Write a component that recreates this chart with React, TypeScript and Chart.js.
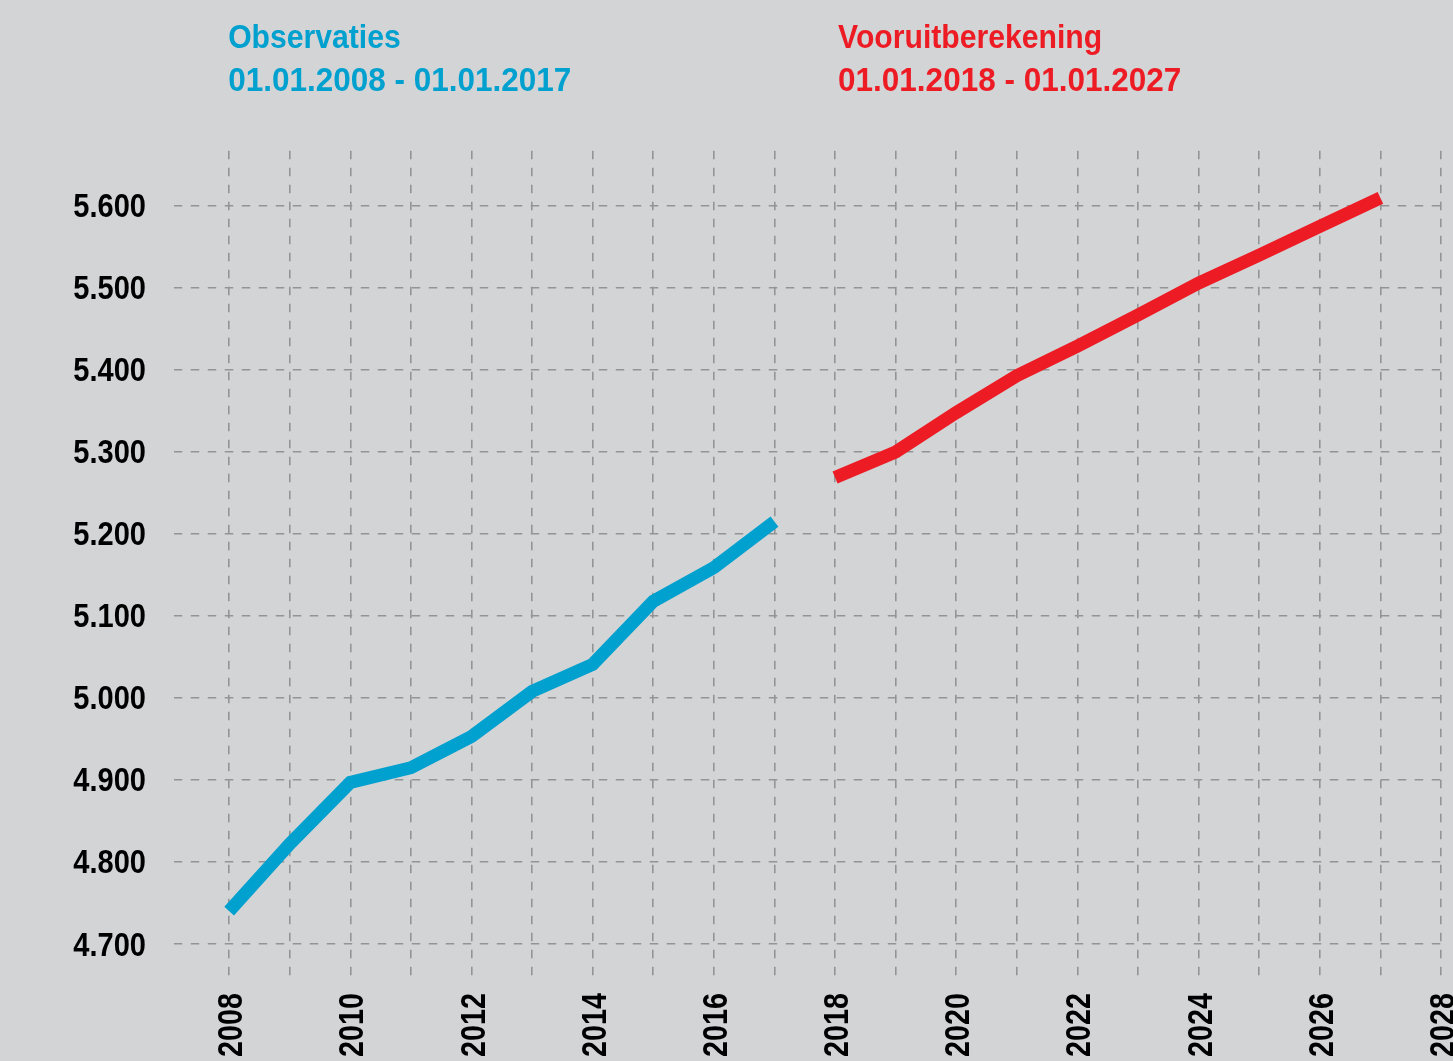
import { useEffect, useRef } from "react";
import { Chart, registerables } from "chart.js";

Chart.register(...registerables);

// ---- Data ----
const obsYears = [2008, 2009, 2010, 2011, 2012, 2013, 2014, 2015, 2016, 2017];
const obsValues = [4740, 4822, 4897, 4915, 4953, 5008, 5041, 5118, 5159, 5215];

const projYears = [2018, 2019, 2020, 2021, 2022, 2023, 2024, 2025, 2026, 2027];
const projValues = [5269, 5300, 5348, 5393, 5429, 5467, 5506, 5540, 5575, 5610];

const xTickYears = [
  2008, 2009, 2010, 2011, 2012, 2013, 2014, 2015, 2016, 2017, 2018,
  2019, 2020, 2021, 2022, 2023, 2024, 2025, 2026, 2027, 2028,
];
const xLabelYears = [2008, 2010, 2012, 2014, 2016, 2018, 2020, 2022, 2024, 2026, 2028];
const yTickValues = [4700, 4800, 4900, 5000, 5100, 5200, 5300, 5400, 5500, 5600];

const obsTitle = ["Observaties", "01.01.2008 - 01.01.2017"];
const projTitle = ["Vooruitberekening", "01.01.2018 - 01.01.2027"];

// ---- Styles ----
const FONT = '"Liberation Sans", Arial, sans-serif';
const BLUE = "#00a0cf";
const RED = "#ed1c24";
const BG = "#d3d4d6";
const GRID = "#939496";

function formatThousands(v: number): string {
  const s = Math.round(v).toString();
  return s.replace(/\B(?=(\d{3})+(?!\d))/g, ".");
}

// Draws condensed text (horizontal squeeze along the text direction)
function condensedText(
  ctx: CanvasRenderingContext2D,
  text: string,
  x: number,
  y: number,
  sx: number,
  rotate = 0
) {
  ctx.save();
  ctx.translate(x, y);
  if (rotate) ctx.rotate(rotate);
  ctx.scale(sx, 1);
  ctx.fillText(text, 0, 0);
  ctx.restore();
}

const textPlugin = {
  id: "condensedLabels",
  afterDraw(chart: any) {
    const ctx = chart.ctx as CanvasRenderingContext2D;
    const xs = chart.scales.x;
    const ys = chart.scales.y;
    ctx.save();

    // Period titles
    ctx.font = `bold 33.5px ${FONT}`;
    ctx.textAlign = "left";
    ctx.textBaseline = "alphabetic";
    const drawBlock = (lines: string[], x: number, color: string) => {
      ctx.fillStyle = color;
      condensedText(ctx, lines[0], x, 48, 0.9);
      condensedText(ctx, lines[1], x, 91, 0.94);
    };
    drawBlock(obsTitle, xs.getPixelForValue(obsYears[0]) - 1, BLUE);
    drawBlock(projTitle, xs.getPixelForValue(projYears[0]) + 3, RED);

    // Y tick labels
    ctx.fillStyle = "#000";
    ctx.font = `bold 33px ${FONT}`;
    ctx.textAlign = "right";
    ctx.textBaseline = "alphabetic";
    yTickValues.forEach((v) => {
      const py = ys.getPixelForValue(v);
      condensedText(ctx, formatThousands(v), 146, py + 11.5, 0.88);
    });

    // X tick labels (rotated)
    ctx.font = `bold 35.5px ${FONT}`;
    ctx.textAlign = "right";
    ctx.textBaseline = "alphabetic";
    xLabelYears.forEach((yr) => {
      const px = xs.getPixelForValue(yr);
      condensedText(ctx, String(yr), px + 13, chart.chartArea.bottom + 13, 0.81, -Math.PI / 2);
    });

    ctx.restore();
  },
};

export default function App() {
  const canvasRef = useRef<HTMLCanvasElement | null>(null);

  useEffect(() => {
    if (!canvasRef.current) return;
    const chart = new Chart(canvasRef.current, {
      type: "line",
      data: {
        datasets: [
          {
            label: "Observaties",
            data: obsYears.map((y, i) => ({ x: y, y: obsValues[i] })),
            borderColor: BLUE,
            borderWidth: 13,
            borderCapStyle: "butt",
            borderJoinStyle: "miter",
            pointRadius: 0,
            tension: 0,
            fill: false,
          },
          {
            label: "Vooruitberekening",
            data: projYears.map((y, i) => ({ x: y, y: projValues[i] })),
            borderColor: RED,
            borderWidth: 13,
            borderCapStyle: "butt",
            borderJoinStyle: "miter",
            pointRadius: 0,
            tension: 0,
            fill: false,
          },
        ],
      },
      options: {
        responsive: false,
        animation: false,
        devicePixelRatio: 1,
        layout: { padding: { top: 148, right: 12, left: 0, bottom: 0 } },
        plugins: {
          legend: { display: false },
          tooltip: { enabled: false },
          title: { display: false },
        },
        scales: {
          x: {
            type: "linear",
            min: 2007.09,
            max: 2028,
            afterBuildTicks: (scale: any) => {
              scale.ticks = xTickYears.map((v) => ({ value: v }));
            },
            afterFit: (scale: any) => {
              scale.height = 81;
            },
            border: { display: false, dash: [8.5, 8.5], dashOffset: 14.25 },
            grid: {
              color: GRID,
              lineWidth: 1.6,
              drawTicks: false,
            },
            ticks: { display: false },
          },
          y: {
            type: "linear",
            min: 4656.1,
            max: 5670.7,
            afterBuildTicks: (scale: any) => {
              scale.ticks = yTickValues.map((v) => ({ value: v }));
            },
            afterFit: (scale: any) => {
              scale.width = 174;
            },
            border: { display: false, dash: [8.5, 8.5], dashOffset: 0.25 },
            grid: {
              color: GRID,
              lineWidth: 1.6,
              drawTicks: false,
            },
            ticks: { display: false },
          },
        },
      } as any,
      plugins: [textPlugin],
    });
    return () => chart.destroy();
  }, []);

  return (
    <div
      style={{
        position: "fixed",
        left: 0,
        top: 0,
        width: 1453,
        height: 1061,
        background: BG,
      }}
    >
      <canvas ref={canvasRef} width={1453} height={1061} style={{ display: "block" }} />
    </div>
  );
}
